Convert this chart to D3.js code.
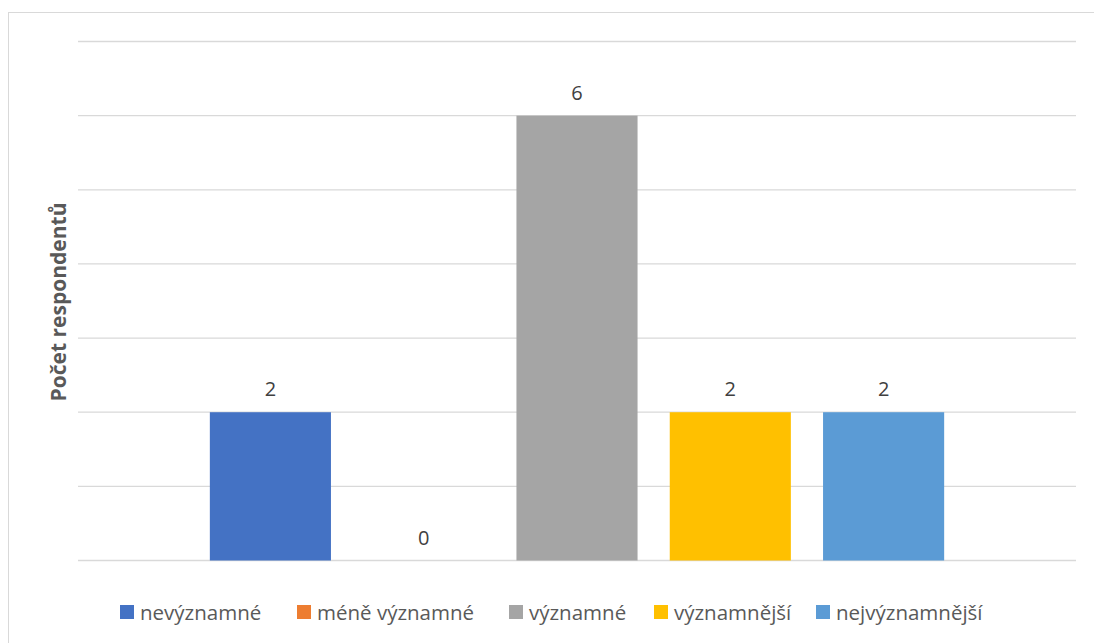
<!DOCTYPE html>
<html><head><meta charset="utf-8">
<script src="https://cdn.jsdelivr.net/npm/d3@7"></script>
<style>body{margin:0;background:#fff;} svg{display:block;}</style>
</head><body>
<svg id="chart" width="1094" height="643"></svg>
<script>
const series = ["nevýznamné","méně významné","významné","významnější","nejvýznamnější"];
const values = [2,0,6,2,2];
const colors = ["#4472C4","#ED7D31","#A5A5A5","#FFC000","#5B9BD5"];
const yTicks = [0,1,2,3,4,5,6,7];
const yTitle = "Počet respondentů";

const svg = d3.select("#chart");
const font = "'Open Sans', 'Liberation Sans', sans-serif";
svg.append("rect").attr("x",8.5).attr("y",12.5).attr("width",1100).attr("height",640)
  .attr("fill","#fff").attr("stroke","#d9d9d9");

const x0 = 78, x1 = 1076;
const y = d3.scaleLinear().domain([0,7]).range([560.5,41.5]);
const x = d3.scaleBand().domain(series).range([x0,x1]).paddingInner(0.21).paddingOuter(0.86);

svg.append("g").selectAll("line").data(yTicks).join("line")
  .attr("x1",x0).attr("x2",x1).attr("y1",d=>y(d)).attr("y2",d=>y(d))
  .attr("stroke","#d9d9d9").attr("stroke-width",1.3);

svg.append("g").selectAll("rect").data(values).join("rect")
  .attr("x",(d,i)=>x(series[i])).attr("width",x.bandwidth())
  .attr("y",d=>y(d)).attr("height",d=>y(0)-y(d)).attr("fill",(d,i)=>colors[i]);

svg.append("g").selectAll("text").data(values).join("text")
  .attr("x",(d,i)=>x(series[i])+x.bandwidth()/2).attr("y",d=>y(d)-16)
  .attr("text-anchor","middle").attr("font-family",font).attr("font-size",20)
  .attr("fill","#404040").text(d=>d);

svg.append("text").attr("transform","translate(66,302) rotate(-90)")
  .attr("text-anchor","middle").attr("font-family",font).attr("font-size",21)
  .attr("font-weight","bold").attr("fill","#595959").text(yTitle);

const legX = [120,297,509,654,816];
const leg = svg.append("g").selectAll("g").data(series).join("g")
  .attr("transform",(d,i)=>`translate(${legX[i]},605)`);
leg.append("rect").attr("width",14).attr("height",14).attr("fill",(d,i)=>colors[i]);
leg.append("text").attr("x",20).attr("y",15).attr("font-family",font).attr("font-size",20.5)
  .attr("textLength",null)
  .attr("fill","#595959").text(d=>d);
</script>
</body></html>
